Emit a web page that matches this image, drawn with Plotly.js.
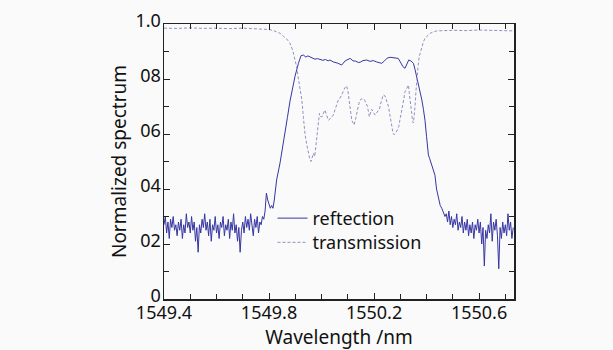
<!DOCTYPE html>
<html>
<head>
<meta charset="utf-8">
<script src="https://cdn.plot.ly/plotly-3.0.1.min.js"></script>
<style>html,body{margin:0;padding:0;background:#fafafa;}#chart{width:613px;height:350px;}</style>
</head>
<body>
<div id="chart"></div>
<script>
// Reflection spectrum
const reflWavelength = [
1549.400,1549.405,1549.410,1549.415,1549.420,1549.425,1549.430,1549.435,1549.440,1549.445,
1549.450,1549.455,1549.460,1549.465,1549.470,1549.475,1549.480,1549.485,1549.490,1549.495,
1549.500,1549.505,1549.510,1549.515,1549.520,1549.525,1549.530,1549.535,1549.540,1549.545,
1549.550,1549.555,1549.560,1549.565,1549.570,1549.575,1549.580,1549.585,1549.590,1549.595,
1549.600,1549.605,1549.610,1549.615,1549.620,1549.625,1549.630,1549.635,1549.640,1549.645,
1549.650,1549.655,1549.660,1549.665,1549.670,1549.675,1549.680,1549.685,1549.690,1549.695,
1549.700,1549.705,1549.710,1549.715,1549.720,1549.725,1549.730,1549.735,1549.740,1549.745,
1549.750,1549.755,1549.760,1549.765,1549.770,1549.775,1549.780,1549.785,
1549.790,1549.795,1549.800,1549.805,1549.810,1549.815,1549.820,1549.829,1549.842,1549.852,
1549.861,1549.870,1549.880,1549.890,1549.899,1549.912,1549.922,1549.931,1549.940,1549.948,
1549.956,1549.966,1549.975,1549.985,1549.994,1550.005,1550.015,1550.025,1550.032,1550.045,
1550.060,1550.070,1550.077,1550.090,1550.100,1550.109,1550.120,1550.130,1550.140,1550.147,
1550.158,1550.172,1550.185,1550.197,1550.210,1550.220,1550.229,1550.240,1550.250,1550.261,
1550.272,1550.282,1550.292,1550.300,1550.310,1550.318,1550.326,1550.332,1550.340,1550.350,
1550.356,1550.363,1550.372,1550.382,1550.388,1550.394,1550.400,1550.404,1550.407,1550.412,
1550.418,1550.426,1550.432,1550.438,1550.442,1550.447,1550.452,1550.458,1550.464,1550.470,
1550.475,1550.480,1550.485,1550.490,1550.495,1550.500,1550.505,1550.510,1550.515,1550.520,
1550.525,1550.530,1550.535,1550.540,1550.545,1550.550,1550.555,1550.560,1550.565,1550.570,
1550.575,1550.580,1550.585,1550.590,1550.595,1550.600,1550.605,1550.610,1550.615,1550.620,
1550.625,1550.630,1550.635,1550.640,1550.645,1550.650,1550.655,1550.660,1550.665,1550.670,
1550.675,1550.680,1550.685,1550.690,1550.695,1550.700,1550.705,1550.710,1550.715,1550.720,
1550.725,1550.730
];
const reflValue = [
0.27,0.30,0.24,0.28,0.22,0.29,0.26,0.30,0.25,0.27,
0.23,0.28,0.25,0.29,0.22,0.27,0.24,0.31,0.26,0.28,
0.24,0.30,0.25,0.28,0.21,0.26,0.17,0.27,0.24,0.29,
0.26,0.31,0.25,0.28,0.23,0.29,0.21,0.27,0.25,0.30,
0.24,0.27,0.22,0.28,0.26,0.30,0.23,0.27,0.25,0.29,
0.22,0.28,0.25,0.31,0.24,0.27,0.21,0.26,0.17,0.25,
0.28,0.24,0.30,0.26,0.29,0.25,0.31,0.27,0.23,0.29,
0.26,0.30,0.24,0.28,0.27,0.30,0.29,0.32,
0.385,0.36,0.34,0.33,0.34,0.33,0.36,0.433,0.495,0.55,
0.60,0.66,0.72,0.77,0.81,0.857,0.885,0.887,0.880,0.884,
0.881,0.875,0.872,0.874,0.870,0.868,0.871,0.866,0.869,0.862,
0.858,0.855,0.851,0.866,0.872,0.875,0.866,0.865,0.860,0.861,
0.867,0.869,0.864,0.867,0.862,0.858,0.857,0.866,0.876,0.879,
0.878,0.876,0.875,0.862,0.845,0.839,0.856,0.869,0.866,0.857,
0.835,0.808,0.765,0.724,0.69,0.65,0.59,0.55,0.524,0.51,
0.49,0.469,0.45,0.40,0.385,0.36,0.34,0.33,0.315,0.30,
0.31,0.28,0.32,0.27,0.30,0.26,0.29,0.27,0.31,0.25,
0.28,0.26,0.30,0.24,0.28,0.25,0.29,0.23,0.27,0.24,
0.28,0.22,0.27,0.25,0.29,0.24,0.28,0.20,0.26,0.12,
0.25,0.22,0.27,0.24,0.31,0.21,0.28,0.25,0.29,0.23,
0.11,0.26,0.22,0.28,0.24,0.27,0.23,0.31,0.25,0.28,
0.22,0.26
];

// Transmission spectrum
const transWavelength = [
1549.40,1549.45,1549.50,1549.55,1549.60,1549.65,1549.70,1549.75,1549.80,1549.82,
1549.842,1549.855,1549.868,1549.880,1549.890,1549.899,1549.905,1549.912,1549.918,1549.925,
1549.931,1549.937,1549.944,1549.950,1549.955,1549.960,1549.965,1549.969,1549.974,1549.978,
1549.982,1549.987,1549.992,1549.998,1550.004,1550.009,1550.013,1550.019,1550.026,1550.032,
1550.038,1550.045,1550.052,1550.058,1550.064,1550.070,1550.076,1550.083,1550.090,1550.095,
1550.100,1550.106,1550.111,1550.115,1550.120,1550.124,1550.130,1550.136,1550.142,1550.147,
1550.155,1550.162,1550.168,1550.175,1550.182,1550.187,1550.191,1550.197,1550.204,1550.212,
1550.220,1550.228,1550.235,1550.242,1550.249,1550.255,1550.260,1550.264,1550.268,1550.273,
1550.278,1550.283,1550.289,1550.294,1550.300,1550.305,1550.312,1550.318,1550.325,1550.331,
1550.334,1550.337,1550.340,1550.343,1550.347,1550.350,1550.353,1550.356,1550.360,1550.363,
1550.368,1550.372,1550.378,1550.382,1550.388,1550.394,1550.403,1550.413,1550.425,1550.439,
1550.50,1550.55,1550.60,1550.65,1550.70,1550.733
];
const transValue = [
0.985,0.984,0.986,0.984,0.985,0.983,0.985,0.983,0.980,0.975,
0.966,0.955,0.945,0.930,0.905,0.869,0.845,0.800,0.760,0.724,
0.660,0.600,0.560,0.530,0.510,0.500,0.515,0.530,0.518,0.550,
0.600,0.640,0.675,0.662,0.665,0.680,0.687,0.670,0.650,0.655,
0.663,0.669,0.690,0.710,0.724,0.730,0.740,0.755,0.770,0.775,
0.760,0.724,0.680,0.650,0.640,0.633,0.655,0.687,0.710,0.724,
0.728,0.727,0.715,0.700,0.663,0.680,0.690,0.680,0.669,0.680,
0.690,0.720,0.742,0.738,0.720,0.700,0.670,0.650,0.625,0.600,
0.598,0.605,0.615,0.627,0.655,0.687,0.720,0.754,0.770,0.778,
0.750,0.724,0.690,0.657,0.645,0.640,0.665,0.700,0.760,0.808,
0.850,0.881,0.905,0.918,0.935,0.948,0.958,0.966,0.971,0.975,
0.977,0.976,0.978,0.977,0.976,0.975
];

const yTickVals = [0, 0.2, 0.4, 0.6, 0.8, 1.0];
const yTickText = ["0", "02", "04", "06", "08", "1.0"];
const xTickVals = [1549.4, 1549.8, 1550.2, 1550.6];
const xTickText = ["1549.4", "1549.8", "1550.2", "1550.6"];

const font = "Noto Sans, sans-serif";

const traces = [
  {x: reflWavelength, y: reflValue, type: 'scatter', mode: 'lines', name: 'reftection',
   legend: 'legend', line: {color: '#3636a2', width: 1}},
  {x: transWavelength, y: transValue, type: 'scatter', mode: 'lines', name: 'transmission',
   legend: 'legend2', line: {color: '#9090c4', width: 1, dash: '3px,2px'}}
];

const axisCommon = {
  showline: true, linecolor: '#222', linewidth: 1.5, mirror: 'ticks',
  ticks: 'inside', ticklen: 6, tickcolor: '#222', tickwidth: 1,
  showgrid: false, zeroline: false,
  tickfont: {family: font, size: 18, color: '#111'}
};

const legendFont = {family: font, size: 18, color: '#111'};

const layout = {
  width: 613, height: 350,
  margin: {l: 164, r: 99, t: 24, b: 51},
  paper_bgcolor: '#fafafa', plot_bgcolor: '#fafafa',
  showlegend: true,
  legend: {x: 0.31, y: 0.293, xanchor: 'left', yanchor: 'middle', bgcolor: 'rgba(0,0,0,0)',
           font: legendFont, itemwidth: 30, borderwidth: 0},
  legend2: {x: 0.31, y: 0.205, xanchor: 'left', yanchor: 'middle', bgcolor: 'rgba(0,0,0,0)',
           font: legendFont, itemwidth: 30, borderwidth: 0},
  xaxis: Object.assign({}, axisCommon, {
    range: [1549.4, 1550.733], tickvals: xTickVals, ticktext: xTickText,
    ticklabelstandoff: -3,
    minor: {dtick: 0.1, tick0: 1549.4, ticks: 'inside', ticklen: 5, tickcolor: '#222'},
    title: {text: 'Wavelength /nm', font: {family: font, size: 19, color: '#111'}, standoff: 0}
  }),
  yaxis: Object.assign({}, axisCommon, {
    range: [0, 1.0], tickvals: yTickVals, ticktext: yTickText,
    ticklabelstandoff: -2, ticklabelshift: -3,
    minor: {dtick: 0.1, tick0: 0, ticks: 'inside', ticklen: 5, tickcolor: '#222'},
    title: {text: 'Normalized spectrum', font: {family: font, size: 19, color: '#111'}, standoff: 4}
  })
};

Plotly.newPlot('chart', traces, layout, {displayModeBar: false, staticPlot: true});
</script>
</body>
</html>
